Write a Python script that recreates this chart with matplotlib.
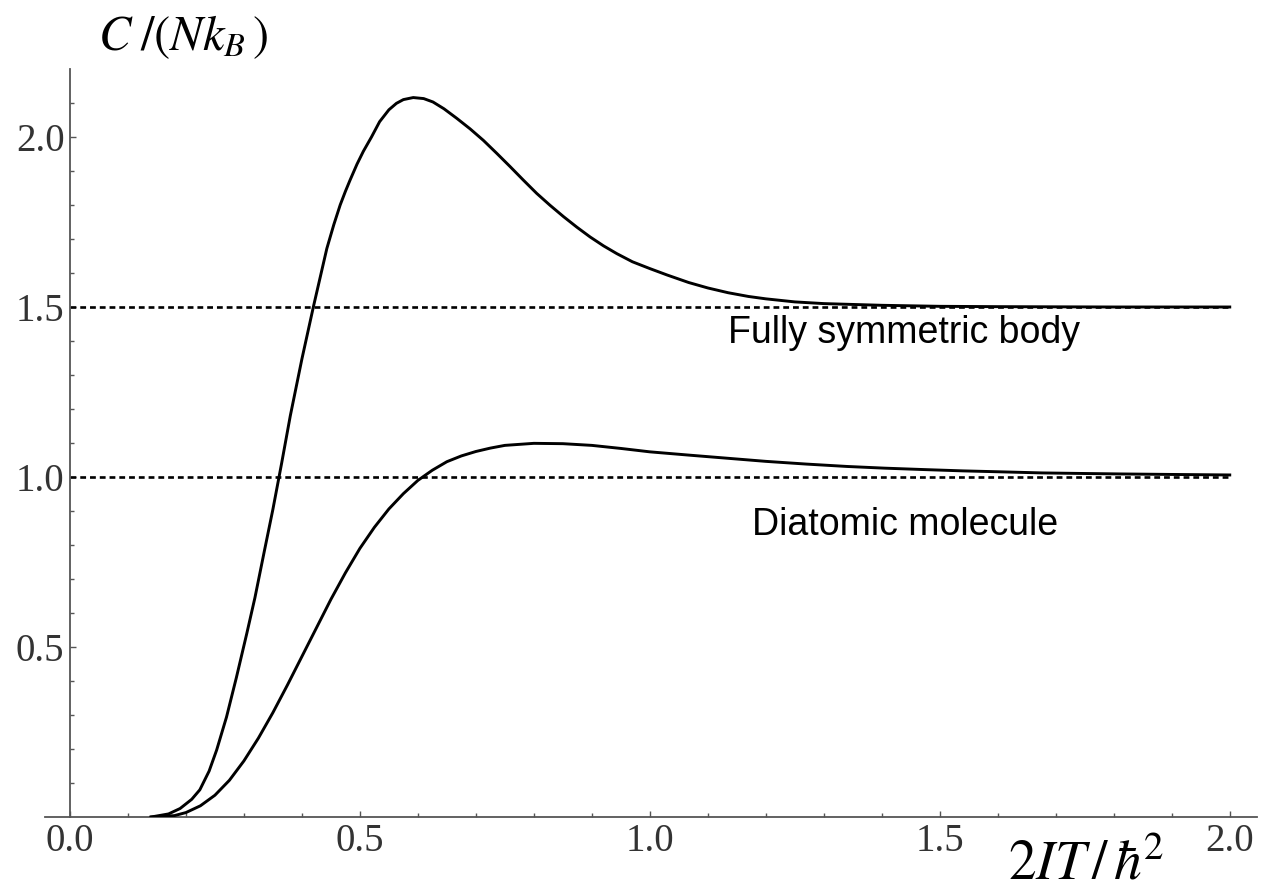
import matplotlib
matplotlib.use("Agg")
import matplotlib.pyplot as plt
from matplotlib.ticker import FixedLocator

plt.rcParams['mathtext.fontset'] = 'stix'

# ---- data ----
x_sym = [0.14, 0.17, 0.19, 0.21, 0.224, 0.24, 0.253, 0.27, 0.287, 0.305, 0.319,
         0.335, 0.35, 0.365, 0.38, 0.40, 0.42, 0.443, 0.455, 0.466, 0.475, 0.483,
         0.495, 0.506, 0.52, 0.534, 0.55, 0.563, 0.575, 0.592, 0.61, 0.626,
         0.645, 0.667, 0.69, 0.713, 0.736, 0.759, 0.782, 0.805, 0.828, 0.851,
         0.874, 0.897, 0.92, 0.943, 0.97, 1.0, 1.03, 1.067, 1.1, 1.135, 1.17,
         1.2, 1.25, 1.3, 1.4, 1.5, 1.6, 1.8, 2.0]
y_sym = [0.0, 0.009, 0.025, 0.052, 0.08, 0.135, 0.197, 0.294, 0.41, 0.54, 0.645,
         0.78, 0.905, 1.04, 1.18, 1.347, 1.502, 1.672, 1.742, 1.8, 1.84, 1.873,
         1.92, 1.958, 2.0, 2.045, 2.08, 2.099, 2.11, 2.116, 2.113, 2.103,
         2.083, 2.055, 2.024, 1.99, 1.952, 1.913, 1.873, 1.834, 1.799, 1.766,
         1.735, 1.706, 1.68, 1.657, 1.633, 1.613, 1.594, 1.572, 1.556, 1.542,
         1.531, 1.524, 1.515, 1.51, 1.505, 1.502, 1.501, 1.5, 1.5]

x_dia = [0.14, 0.18, 0.2, 0.225, 0.25, 0.275, 0.3, 0.325, 0.35, 0.375, 0.4,
         0.425, 0.45, 0.475, 0.5, 0.525, 0.55, 0.575, 0.6, 0.625, 0.65, 0.675,
         0.7, 0.725, 0.75, 0.8, 0.85, 0.9, 0.95, 1.0, 1.07, 1.135, 1.2, 1.27,
         1.34, 1.405, 1.47, 1.54, 1.61, 1.676, 1.74, 1.81, 1.9, 2.0]
y_dia = [0.0, 0.004, 0.013, 0.033, 0.064, 0.108, 0.165, 0.232, 0.307, 0.388,
         0.472, 0.556, 0.64, 0.718, 0.79, 0.852, 0.906, 0.951, 0.99, 1.02,
         1.045, 1.062, 1.075, 1.085, 1.093, 1.099, 1.098, 1.093, 1.084, 1.074,
         1.064, 1.055, 1.046, 1.038, 1.031, 1.026, 1.022, 1.018, 1.015, 1.012,
         1.0105, 1.009, 1.0075, 1.006]

asymptotes = [1.5, 1.0]
x_major = [0.0, 0.5, 1.0, 1.5, 2.0]
x_labels = ["0.0", "0.5", "1.0", "1.5", "2.0"]
y_major = [0.5, 1.0, 1.5, 2.0]
y_labels = ["0.5", "1.0", "1.5", "2.0"]
x_minor = [0.1, 0.2, 0.3, 0.4, 0.6, 0.7, 0.8, 0.9, 1.1, 1.2, 1.3, 1.4, 1.6, 1.7, 1.8, 1.9]
y_minor = [0.1, 0.2, 0.3, 0.4, 0.6, 0.7, 0.8, 0.9, 1.1, 1.2, 1.3, 1.4, 1.6, 1.7, 1.8, 1.9, 2.1]

W, H = 1264, 891
fig = plt.figure(figsize=(W / 100, H / 100), dpi=100)
fig.patch.set_facecolor('white')
ax = fig.add_axes([45 / W, (H - 817) / H, 1212 / W, 748 / H])
ax.set_xlim(-0.043, 2.047)
ax.set_ylim(0, 2.2)

axis_color = '#555555'
for s in ['top', 'right']:
    ax.spines[s].set_visible(False)
ax.spines['left'].set_position(('data', 0))
for s in ['left', 'bottom']:
    ax.spines[s].set_color(axis_color)
    ax.spines[s].set_linewidth(1.3)

for yv in asymptotes:
    ax.plot([0, 2.0], [yv, yv], color='black', lw=1.9, linestyle=(0, (2.2, 1.5)), zorder=2)

ax.plot(x_sym, y_sym, color='black', lw=2.1, zorder=3, solid_joinstyle='round')
ax.plot(x_dia, y_dia, color='black', lw=2.1, zorder=3, solid_joinstyle='round')

ax.xaxis.set_major_locator(FixedLocator(x_major))
ax.set_xticklabels(x_labels)
ax.xaxis.set_minor_locator(FixedLocator(x_minor))
ax.yaxis.set_major_locator(FixedLocator(y_major))
ax.set_yticklabels(y_labels)
ax.yaxis.set_minor_locator(FixedLocator(y_minor))

ax.tick_params(which='major', direction='in', length=4.5, width=1.0, color=axis_color,
               labelsize=28, labelcolor='#333333')
ax.tick_params(which='minor', direction='in', length=2.6, width=1.0, color=axis_color)
ax.tick_params(axis='x', which='major', pad=4)
ax.tick_params(axis='y', which='major', pad=4)
for lab in ax.get_xticklabels() + ax.get_yticklabels():
    lab.set_fontfamily('Liberation Serif')

ax.text(1.134, 1.394, "Fully symmetric body", fontsize=27, family='Liberation Sans',
        ha='left', va='baseline', color='black')
ax.text(1.176, 0.829, "Diatomic molecule", fontsize=27, family='Liberation Sans',
        ha='left', va='baseline', color='black')

fig.text(98 / W, 1 - 50 / H, r'$C\;/(Nk_B\,)$', fontsize=35, ha='left', va='baseline',
         color='black')
fig.text(1008 / W, 1 - 879 / H, r'$2IT\,/\,\hbar^{\!2}$', fontsize=40, ha='left',
         va='baseline', color='black')

fig.savefig('out.png', dpi=100, facecolor='white')
